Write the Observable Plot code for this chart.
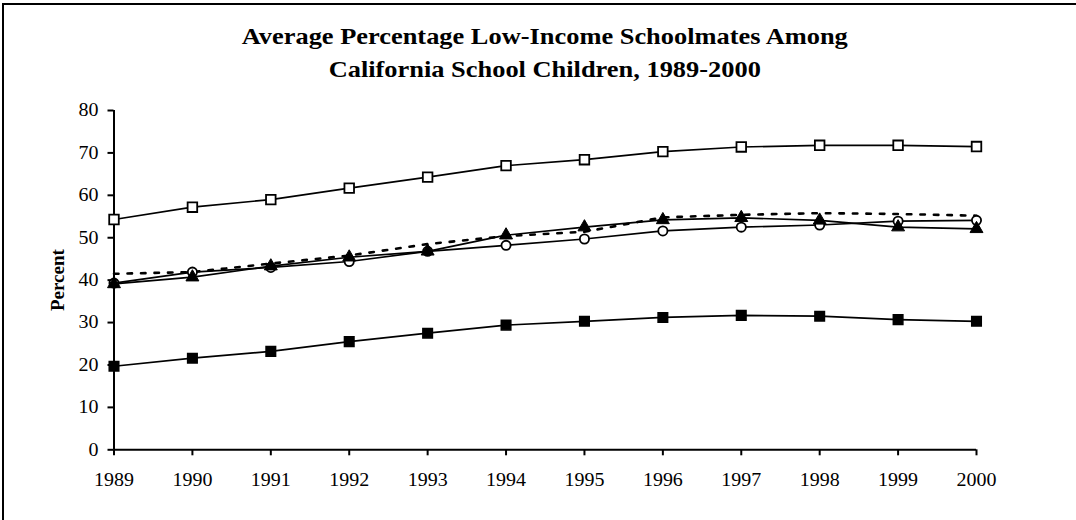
<!DOCTYPE html>
<html>
<head>
<meta charset="utf-8">
<script src="https://cdn.jsdelivr.net/npm/d3@7"></script>
<script src="https://cdn.jsdelivr.net/npm/@observablehq/plot@0.6"></script>
<style>
  body { margin: 0; background: #fff; }
  #wrap { position: relative; width: 1076px; height: 520px; overflow: hidden; background: #fff; }
  #frame { position: absolute; left: 2px; top: 3px; width: 1200px; height: 700px;
           border-top: 2.5px solid #000; border-left: 2px solid #000; pointer-events: none; box-sizing: border-box; }
  .tline { position: absolute; left: 0; width: 1089.5px; text-align: center;
           font-family: "Liberation Serif", "Times New Roman", serif; font-weight: bold;
           font-size: 24px; line-height: 24px; color: #000; white-space: nowrap;
           transform: scaleX(1.1); transform-origin: 544.75px 50%; }
  #chart { position: absolute; left: 0; top: 95px; }
</style>
</head>
<body>
<div id="wrap">
  <div class="tline" id="t1" style="top:23.9px">Average Percentage Low-Income Schoolmates Among</div>
  <div class="tline" id="t2" style="top:56.6px">California School Children, 1989-2000</div>
  <div id="chart"></div>
  <div id="frame"></div>
</div>
<script>
// ---- data ----
const years = [1989, 1990, 1991, 1992, 1993, 1994, 1995, 1996, 1997, 1998, 1999, 2000];
const openSquares   = [54.3, 57.2, 59.0, 61.7, 64.3, 67.0, 68.4, 70.3, 71.4, 71.8, 71.8, 71.5];
const filledSquares = [19.7, 21.6, 23.2, 25.5, 27.5, 29.4, 30.3, 31.2, 31.7, 31.5, 30.7, 30.3];
const openCircles   = [39.3, 41.9, 43.0, 44.4, 46.8, 48.2, 49.7, 51.6, 52.5, 53.0, 53.9, 54.1];
const triangles     = [39.1, 40.7, 43.3, 45.4, 46.8, 50.6, 52.5, 54.2, 54.7, 54.1, 52.5, 52.1];
const dottedSeries  = [41.5, 41.9, 43.9, 45.8, 48.5, 50.4, 51.4, 54.8, 55.4, 55.8, 55.6, 55.2];
const yTicks = [0, 10, 20, 30, 40, 50, 60, 70, 80];
const yLabel = "Percent";

const rows = (vals) => years.map((year, i) => ({year, value: vals[i]}));
const sqOpen = rows(openSquares);
const sqFill = rows(filledSquares);
const circ = rows(openCircles);
const tri = rows(triangles);
const dot = rows(dottedSeries);

const lineOpts = {x: "year", y: "value", stroke: "#000", strokeWidth: 1.7, curve: "linear"};

const chart = Plot.plot({
  width: 1076,
  height: 425,
  marginTop: 15,
  marginBottom: 70.7,
  marginLeft: 113.5,
  marginRight: 100,
  style: {fontFamily: "'Liberation Serif', 'Times New Roman', serif", fontSize: "18.5px", color: "#000", background: "transparent"},
  x: {type: "linear", domain: [1989, 2000]},
  y: {domain: [0, 80]},
  marks: [
    Plot.ruleX([1989], {y1: 0, y2: 80, stroke: "#000", strokeWidth: 2}),
    Plot.ruleY([0], {stroke: "#000", strokeWidth: 2}),
    Plot.axisX({ticks: years, tickFormat: "d", tickSize: 6, tickPadding: 17, strokeWidth: 2, fontSize: 18.5, label: null}),
    Plot.axisY({ticks: yTicks, tickSize: 6, tickPadding: 9.5, strokeWidth: 2, fontSize: 18.5, label: null}),
    Plot.text([yLabel], {frameAnchor: "left", dx: -56.5, rotate: -90, fontWeight: "bold", fontSize: 19, lineAnchor: "middle", textAnchor: "middle", fill: "#000"}),
    Plot.line(dot, {x: "year", y: "value", stroke: "#000", strokeWidth: 2.6, strokeDasharray: "4.5,9"}),
    Plot.line(sqOpen, lineOpts),
    Plot.line(sqFill, lineOpts),
    Plot.line(circ, lineOpts),
    Plot.line(tri, lineOpts),
    Plot.dot(sqOpen, {x: "year", y: "value", symbol: "square", r: 5.4, fill: "#fff", stroke: "#000", strokeWidth: 1.8}),
    Plot.dot(sqFill, {x: "year", y: "value", symbol: "square", r: 5.4, fill: "#000", stroke: "#000", strokeWidth: 1.5}),
    Plot.dot(circ, {x: "year", y: "value", symbol: "circle", r: 4.6, fill: "#fff", stroke: "#000", strokeWidth: 1.8}),
    Plot.dot(tri, {x: "year", y: "value", symbol: "triangle", r: 4.8, fill: "#000", stroke: "#000", strokeWidth: 1})
  ]
});
document.getElementById("chart").appendChild(chart);
// the reference's tick text is slightly wider than its height suggests
chart.querySelectorAll('g[aria-label="x-axis tick label"] text, g[aria-label="y-axis tick label"] text').forEach(t => {
  const w = t.getComputedTextLength();
  if (w > 0) {
    t.setAttribute("textLength", (w * 1.08).toFixed(2));
    t.setAttribute("lengthAdjust", "spacingAndGlyphs");
  }
});
</script>
</body>
</html>
